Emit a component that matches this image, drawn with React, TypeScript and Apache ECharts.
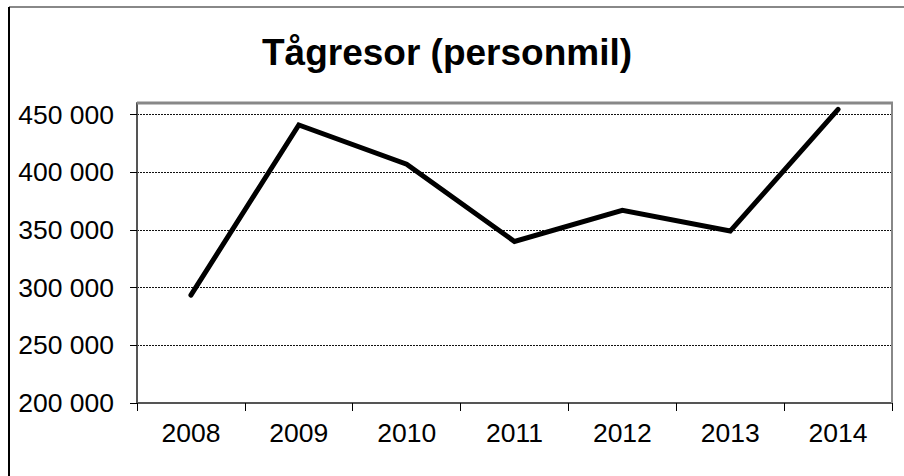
import React, { useEffect, useRef } from "react";
import * as echarts from "echarts";

const years = ["2008", "2009", "2010", "2011", "2012", "2013", "2014"];
const personmil = [293500, 441000, 407000, 340000, 367000, 349000, 454500];
const yMin = 200000;
const yMax = 460000;
const yStep = 50000;
const titleText = "Tågresor (personmil)";

const W = 904;
const H = 476;
const G = { left: 137, top: 103, right: 12, bottom: 73 };

export default function App() {
  const ref = useRef<HTMLDivElement>(null);
  useEffect(() => {
    if (!ref.current) return;
    const chart = echarts.init(ref.current, null, { renderer: "svg" });
    const font = "'Liberation Sans', Arial, sans-serif";
    const gx2 = W - G.right;
    const gy2 = H - G.bottom;
    chart.setOption({
      animation: false,
      backgroundColor: "#fff",
      grid: { left: G.left, top: G.top, right: G.right, bottom: G.bottom, containLabel: false },
      xAxis: {
        type: "category",
        data: years,
        boundaryGap: true,
        axisLine: { show: true, lineStyle: { color: "#555", width: 2 } },
        axisTick: { show: true, length: 8, lineStyle: { color: "#000", width: 1 }, alignWithLabel: false },
        axisLabel: { color: "#000", fontSize: 26.5, fontFamily: font, margin: 16 },
        splitLine: { show: false },
      },
      yAxis: {
        type: "value",
        min: yMin,
        max: yMax,
        interval: yStep,
        axisLine: { show: true, lineStyle: { color: "#555", width: 2 } },
        axisTick: { show: true, length: 7, lineStyle: { color: "#000", width: 1 } },
        axisLabel: {
          color: "#000",
          fontSize: 26.5,
          fontFamily: font,
          margin: 23,
          showMaxLabel: false,
          formatter: (v: number) => (v > 450000 ? "" : String(v / 1000) + " 000"),
        },
        splitLine: { show: true, lineStyle: { color: "#111", width: 1, type: [2, 1] } },
      },
      series: [
        {
          type: "line",
          data: personmil,
          showSymbol: false,
          symbol: "none",
          lineStyle: { color: "#000", width: 5, cap: "round", join: "miter" },
        },
      ],
      graphic: [
        { type: "line", z: 100, shape: { x1: 9, y1: 7, x2: W, y2: 7 }, style: { stroke: "#888", lineWidth: 2 } },
        { type: "line", z: 100, shape: { x1: 9, y1: 7, x2: 9, y2: H }, style: { stroke: "#000", lineWidth: 2 } },
        { type: "line", z: 100, shape: { x1: G.left, y1: G.top, x2: gx2 + 1, y2: G.top }, style: { stroke: "#888", lineWidth: 3 } },
        { type: "line", z: 100, shape: { x1: gx2, y1: G.top, x2: gx2, y2: gy2 }, style: { stroke: "#888", lineWidth: 2 } },
        {
          type: "text",
          z: 100,
          x: 447,
          y: 52,
          style: { text: titleText, align: "center", verticalAlign: "middle", font: `bold 37px ${font}`, fill: "#000" },
        },
      ],
    });
    return () => chart.dispose();
  }, []);
  return <div ref={ref} style={{ position: "fixed", left: 0, top: 0, width: W, height: H }} />;
}
